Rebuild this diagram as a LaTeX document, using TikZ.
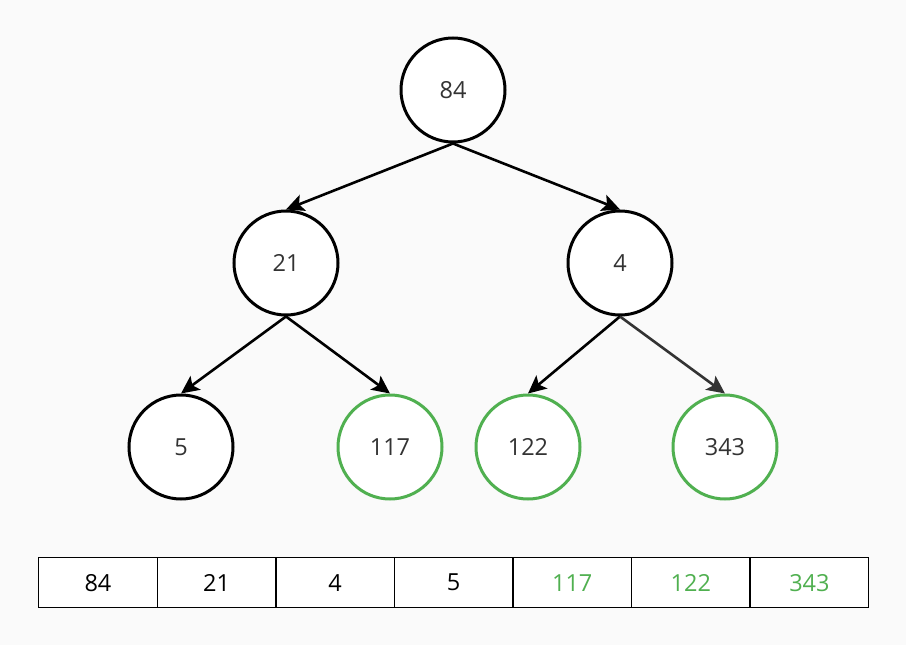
\documentclass[tikz,border=0pt]{standalone}
\usepackage{fontspec}
\setmainfont{Open Sans}
\usetikzlibrary{arrows.meta}
\definecolor{bg}{RGB}{250,250,250}
\definecolor{grn}{RGB}{80,176,80}
\definecolor{txt}{RGB}{51,51,51}
\tikzset{
  tn/.style={circle,draw=black,line width=3pt,fill=white,minimum size=104pt,inner sep=0pt,font=\fontsize{23.5}{28}\selectfont,text=txt},
  gn/.style={tn,draw=grn},
  edge/.style={line width=2.6pt,-{Stealth[length=18pt,width=17pt,inset=4pt]}},
  cell/.style={draw=black,line width=1.4pt,fill=white,minimum width=118.57pt,minimum height=50pt,inner sep=0pt,anchor=north west,font=\fontsize{23.5}{28}\selectfont},
}
\begin{document}
\begin{tikzpicture}[x=1pt,y=-1pt]
\fill[bg] (0,0) rectangle (906,645);
\useasboundingbox (0,0) rectangle (906,645);
\node[tn] (n84) at (453,90) {84};
\node[tn] (n21) at (286,263) {21};
\node[tn] (n4) at (620,263) {4};
\node[tn] (n5) at (181,447) {5};
\node[gn] (n117) at (390,447) {117};
\node[gn] (n122) at (528,447) {122};
\node[gn] (n343) at (725,447) {343};
\draw[edge] (n84.south) -- (n21.north);
\draw[edge] (n84.south) -- (n4.north);
\draw[edge] (n21.south) -- (n5.north);
\draw[edge] (n21.south) -- (n117.north);
\draw[edge] (n4.south) -- (n122.north);
\draw[edge,draw=txt,fill=txt] (n4.south) -- (n343.north);
\node[cell] (c1) at (38,557) {84};
\node[cell] (c2) at (156.57,557) {21};
\node[cell] (c3) at (275.14,557) {4};
\node[cell] (c4) at (393.71,557) {5};
\node[cell,text=grn] (c5) at (512.28,557) {117};
\node[cell,text=grn] (c6) at (630.85,557) {122};
\node[cell,text=grn] (c7) at (749.42,557) {343};
\end{tikzpicture}
\end{document}
